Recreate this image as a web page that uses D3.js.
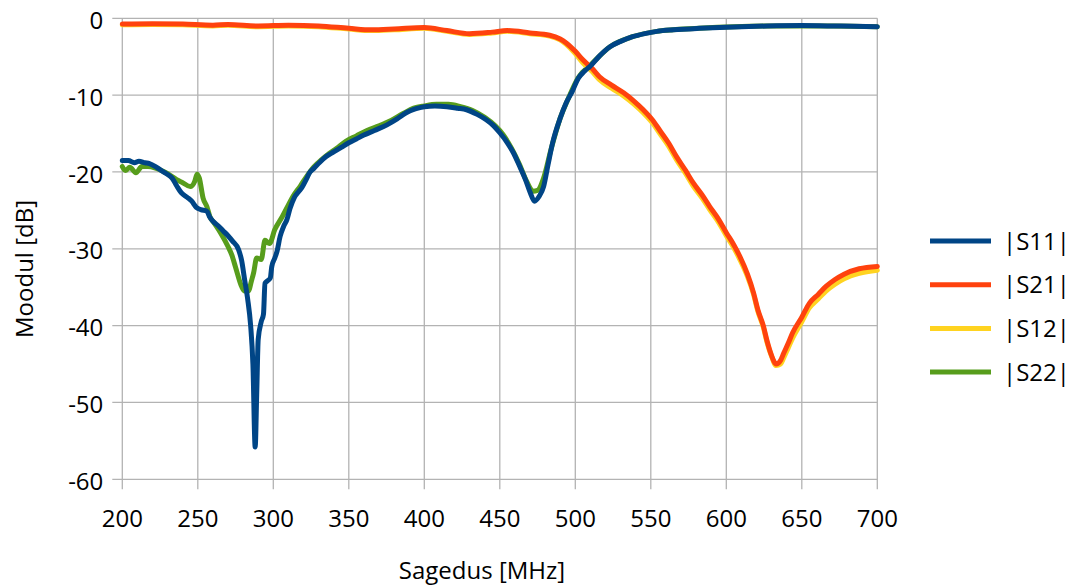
<!DOCTYPE html>
<html>
<head>
<meta charset="utf-8">
<script src="https://cdn.jsdelivr.net/npm/d3@7"></script>
<style>
  body { margin: 0; background: #fff; }
  text { font-family: "Open Sans", "Noto Sans", sans-serif; fill: #000; }
</style>
</head>
<body>
<svg id="chart" width="1073" height="587"></svg>
<script>
// tick values
var xTicks = [200, 250, 300, 350, 400, 450, 500, 550, 600, 650, 700];
var yTicks = [0, -10, -20, -30, -40, -50, -60];

// |S11|
var fS11 = [200, 204, 208, 211, 215, 218, 222, 225, 229, 233, 236, 239, 243, 246, 249, 252, 256, 258, 260, 264, 267, 270, 273, 277, 279, 281, 283, 285, 286.5, 288, 289, 290, 292, 293.5, 294.5, 296, 298, 299, 301, 302.5, 304.5, 307, 309, 311, 314, 317, 319, 322, 324, 327, 331, 335, 340, 345, 350, 355, 360, 367, 375, 382, 388, 394, 400, 407, 415, 422, 428, 435, 441, 446, 450, 455, 459, 463, 467, 470, 473, 476, 479, 482, 485, 490, 494, 498, 502, 506, 510, 516, 523, 530, 538, 546, 554, 565, 582, 600, 627, 650, 671, 685, 700];
var vS11 = [-18.5, -18.5, -18.8, -18.6, -18.8, -18.9, -19.3, -19.7, -20.2, -20.8, -21.8, -22.7, -23.3, -23.8, -24.6, -24.9, -25.1, -25.9, -26.4, -27.1, -27.7, -28.3, -29, -30.1, -31.5, -34, -36.5, -40, -45, -55.8, -49, -41.8, -39.5, -38.5, -34.5, -34.2, -33.8, -32.3, -31.2, -30.3, -28.4, -27, -26.2, -24.8, -23.3, -22.5, -22, -20.9, -20.1, -19.5, -18.7, -18, -17.4, -16.8, -16.2, -15.7, -15.2, -14.6, -13.9, -13.1, -12.3, -11.8, -11.5, -11.4, -11.5, -11.7, -11.9, -12.5, -13.2, -14, -14.9, -16.2, -17.5, -19.2, -21, -22.6, -23.8, -23.2, -21.9, -19, -16.2, -13, -11, -9.5, -7.8, -6.9, -6.2, -4.9, -3.7, -3, -2.4, -2, -1.7, -1.5, -1.3, -1.15, -1.0, -0.95, -1.0, -1.05, -1.1];

// |S21| and |S12| share frequencies
var fS21 = [200, 220, 240, 260, 270, 290, 310, 330, 350, 365, 380, 400, 415, 430, 445, 455, 470, 483, 490, 494, 500, 505, 511, 516, 524, 532, 539, 545, 551, 556, 562, 567, 573, 578, 584, 589, 595, 600, 605, 609, 614, 618, 621, 624.5, 627, 630, 633, 636, 638, 641, 644, 650, 655, 661, 666, 672, 678, 688, 700];
var vS21 = [-0.75, -0.7, -0.75, -0.9, -0.8, -1.0, -0.9, -1.0, -1.3, -1.5, -1.4, -1.2, -1.6, -2.0, -1.8, -1.6, -1.9, -2.2, -2.7, -3.2, -4.3, -5.4, -6.5, -7.6, -8.7, -9.7, -10.8, -11.9, -13.2, -14.6, -16.3, -18, -19.8, -21.4, -23, -24.5, -26.2, -27.9, -29.5, -31, -33.3, -35.7, -38, -40, -42, -43.9, -45, -44.5, -43.6, -42.3, -40.9, -38.9, -37.1, -35.9, -34.9, -34, -33.3, -32.6, -32.3];
var vS12 = [-0.85, -0.8, -0.85, -1.0, -0.9, -1.1, -1.0, -1.1, -1.4, -1.6, -1.5, -1.3, -1.7, -2.1, -1.9, -1.7, -2.0, -2.3, -2.8, -3.4, -4.6, -5.8, -6.9, -8.0, -9.1, -10.1, -11.2, -12.3, -13.6, -15.0, -16.7, -18.4, -20.2, -21.8, -23.4, -24.9, -26.6, -28.3, -29.9, -31.4, -33.6, -35.9, -38.2, -40.2, -42.2, -44.0, -45.2, -45.0, -44.2, -42.9, -41.6, -39.5, -37.7, -36.5, -35.5, -34.6, -33.9, -33.2, -32.8];

// |S22|
var fS22 = [200, 202, 205, 209, 213, 217, 222, 228, 233, 236, 240, 245, 248, 249.5, 251, 253.5, 256, 258, 261, 265, 270, 272.5, 275, 279, 281, 283.5, 285.5, 287, 289, 292, 294.5, 297.5, 301, 306, 310, 313, 318, 322, 327, 332, 337, 342, 348, 355, 362, 370, 378, 386, 393, 400, 408, 416, 424, 432, 440, 447, 452, 458, 463, 468, 472, 475, 479, 484, 490, 495, 502, 510, 523, 538, 554, 582, 627, 671, 700];
var vS22 = [-19.3, -19.8, -19.4, -20.1, -19.3, -19.3, -19.5, -20, -20.6, -21, -21.4, -21.9, -21.2, -20.3, -20.8, -23.4, -24.5, -25.8, -26.7, -27.9, -29.7, -30.8, -32.4, -34.9, -35.5, -35.5, -34.2, -33.1, -31.2, -31.4, -28.9, -29.3, -27.5, -25.8, -24.3, -23.2, -21.8, -20.6, -19.3, -18.4, -17.6, -16.9, -16, -15.3, -14.6, -14, -13.3, -12.4, -11.7, -11.4, -11.2, -11.2, -11.5, -12, -12.9, -14, -15.1, -17, -19, -21.3, -22.5, -22.4, -20.8, -17, -13, -10.6, -7.7, -6.1, -3.7, -2.4, -1.7, -1.3, -1.0, -1.0, -1.1];

var seriesNames = ["|S11|", "|S21|", "|S12|", "|S22|"];
var color = {
  "|S11|": "#004586",
  "|S21|": "#ff420e",
  "|S12|": "#ffd320",
  "|S22|": "#579d1c"
};

var series = [
  {id: "|S11|", f: fS11, v: vS11},
  {id: "|S21|", f: fS21, v: vS21},
  {id: "|S12|", f: fS21, v: vS12},
  {id: "|S22|", f: fS22, v: vS22}
].map(function(s) {
  return {id: s.id, values: s.f.map(function(f, i) { return {x: f, y: s.v[i]}; })};
});

var svg = d3.select("#chart"),
    margin = {top: 18.3, left: 122.3},
    width = 755,
    height = 461,
    g = svg.append("g").attr("transform", "translate(" + margin.left + "," + margin.top + ")");

var xScale = d3.scaleLinear().domain([200, 700]).range([0, width]),
    yScale = d3.scaleLinear().domain([-60, 0]).range([height, 0]);

// grid
g.append("g").selectAll("line.gy")
  .data(yTicks)
  .enter().append("line")
    .attr("x1", -10).attr("x2", width)
    .attr("y1", function(d) { return yScale(d); })
    .attr("y2", function(d) { return yScale(d); })
    .attr("stroke", "#b3b3b3").attr("stroke-width", 1.3);

g.append("g").selectAll("line.gx")
  .data(xTicks)
  .enter().append("line")
    .attr("x1", function(d) { return xScale(d); })
    .attr("x2", function(d) { return xScale(d); })
    .attr("y1", 0).attr("y2", height + 10)
    .attr("stroke", "#b3b3b3").attr("stroke-width", 1.3);

// tick labels
g.append("g").selectAll("text")
  .data(yTicks)
  .enter().append("text")
    .attr("x", -19)
    .attr("y", function(d) { return yScale(d); })
    .attr("dy", "0.44em")
    .attr("text-anchor", "end")
    .style("font-size", "24px")
    .text(function(d) { return d; });

g.append("g").selectAll("text")
  .data(xTicks)
  .enter().append("text")
    .attr("x", function(d) { return xScale(d); })
    .attr("y", height + 48)
    .attr("text-anchor", "middle")
    .style("font-size", "24px")
    .text(function(d) { return d; });

// axis titles
svg.append("text")
  .attr("x", 482)
  .attr("y", 579)
  .attr("text-anchor", "middle")
  .style("font-size", "24px")
  .text("Sagedus [MHz]");

svg.append("text")
  .attr("transform", "translate(33,269) rotate(-90)")
  .attr("text-anchor", "middle")
  .style("font-size", "24px")
  .text("Moodul [dB]");

// lines, drawn last-to-first so |S11| ends up on top
var line = d3.line()
  .x(function(d) { return xScale(d.x); })
  .y(function(d) { return yScale(d.y); })
  .curve(d3.curveMonotoneX);

g.selectAll(".series")
  .data(series.slice().reverse())
  .enter().append("path")
    .attr("class", "series")
    .attr("d", function(d) { return line(d.values); })
    .attr("fill", "none")
    .attr("stroke", function(d) { return color[d.id]; })
    .attr("stroke-width", 5)
    .attr("stroke-linejoin", "round")
    .attr("stroke-linecap", "round");

// legend
var legend = svg.append("g").attr("transform", "translate(930,241)");
var item = legend.selectAll("g")
  .data(seriesNames)
  .enter().append("g")
    .attr("transform", function(d, i) { return "translate(0," + (i * 43.7) + ")"; });

item.append("line")
  .attr("x1", 0).attr("x2", 61)
  .attr("stroke", function(d) { return color[d]; })
  .attr("stroke-width", 5);

item.append("text")
  .attr("x", 73)
  .attr("dy", "0.36em")
  .style("font-size", "24px")
  .text(function(d) { return d; });
</script>
</body>
</html>
